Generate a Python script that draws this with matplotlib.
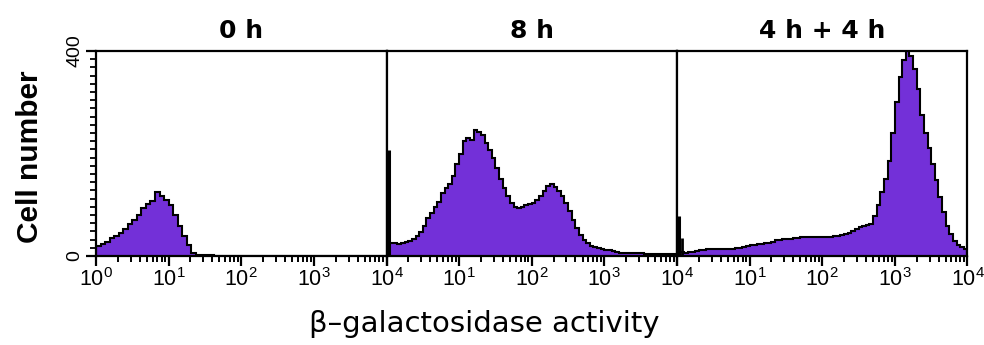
import numpy as np
import matplotlib
matplotlib.use("Agg")
import matplotlib.pyplot as plt
from matplotlib.ticker import FixedLocator, FixedFormatter, NullFormatter

plt.rcParams['font.family'] = ['Liberation Sans', 'DejaVu Sans']
plt.rcParams['mathtext.fontset'] = 'custom'
plt.rcParams['mathtext.rm'] = 'Liberation Sans'
plt.rcParams['mathtext.it'] = 'Liberation Sans'

# ---------------- data ----------------
titles = ["0 h", "8 h", "4 h + 4 h"]
ylabel = "Cell number"
xlabel = "\u03b2\u2013galactosidase activity"
y_tick_values = [0, 400]
y_tick_labels = ["0", "400"]
x_decades = [0, 1, 2, 3, 4]

# 0 h : 16 bins per decade, 4 decades
counts_0h = [20, 23, 27, 35, 39, 44, 53, 62, 70, 80, 93, 101, 108, 125, 117, 110,
             100, 80, 58, 40, 22, 6, 2, 2, 2, 2, 0, 0, 0, 0, 0, 0,
             0, 0, 0, 0, 0, 0, 0, 0, 0, 0, 0, 0, 0, 0, 0, 0,
             0, 0, 0, 0, 0, 0, 0, 0, 0, 0, 0, 0, 0, 0, 0, 0]

# 8 h : 20 bins per decade, 4 decades
counts_8h = [26, 26, 25, 24, 25, 27, 30, 34, 39, 46,
             58, 74, 84, 95, 106, 122, 133, 140, 157, 180,
             200, 224, 231, 226, 245, 242, 236, 220, 206, 192,
             172, 150, 132, 118, 104, 95, 93, 96, 99, 101,
             104, 110, 118, 127, 136, 141, 134, 126, 118, 104,
             88, 71, 55, 41, 31, 25, 20, 18, 16, 14,
             12, 11, 9, 7, 6, 5, 5, 5, 5, 5,
             5, 4, 4, 4, 4, 4, 4, 4, 3, 3]

# 4 h + 4 h : 20 bins per decade, 4 decades
counts_4h4h = [8, 8, 6, 7, 8, 10, 11, 12, 13, 13,
               13, 13, 13, 13, 14, 14, 15, 16, 18, 20,
               21, 22, 23, 24, 26, 26, 28, 31, 32, 33,
               34, 34, 35, 36, 37, 38, 38, 38, 38, 38,
               38, 38, 38, 39, 40, 41, 42, 45, 48, 52,
               56, 58, 60, 62, 78, 100, 125, 150, 185, 240,
               300, 350, 382, 400, 390, 365, 325, 275, 240, 210,
               180, 148, 115, 85, 58, 42, 30, 22, 17, 14]

# low-channel spikes (position, height)
spike_pos = [None, 1.08, 1.08]
spike_height = [0, 207, 78]
spike2_pos = [None, None, 1.16]
spike2_height = [0, 0, 36]

bins_per_decade = [16, 20, 20]
all_counts = [counts_0h, counts_8h, counts_4h4h]

purple = "#7330d8"

# ---------------- figure ----------------
fig = plt.figure(figsize=(9.84, 3.45), dpi=100)
left0 = 96 / 984
pw = 290.5 / 984
bottom = (345 - 256) / 345
height = (256 - 51) / 345

axes = []
for i in range(3):
    ax = fig.add_axes([left0 + i * pw, bottom, pw, height])
    axes.append(ax)
    counts = np.array(all_counts[i], dtype=float)
    n = len(counts)
    edges = 10 ** (np.arange(n + 1) / bins_per_decade[i])
    ax.stairs(counts, edges, fill=True, color=purple, zorder=2)
    ax.stairs(counts, edges, color="black", lw=1.5, zorder=3)
    if spike_pos[i] is not None:
        ax.vlines(spike_pos[i], 0, spike_height[i], color="black", lw=2.2, zorder=4)
    if spike2_pos[i] is not None:
        ax.vlines(spike2_pos[i], 0, spike2_height[i], color="black", lw=2.0, zorder=4)

    ax.set_xscale("log")
    ax.set_xlim(1, 1e4)
    ax.set_ylim(0, 400)

    # x ticks
    majors = [10 ** d for d in x_decades]
    labels = [r"$\mathregular{10^{%d}}$" % d for d in x_decades]
    if i > 0:
        labels[0] = ""
    ax.xaxis.set_major_locator(FixedLocator(majors))
    ax.xaxis.set_major_formatter(FixedFormatter(labels))
    minors = [m * 10 ** d for d in x_decades[:-1] for m in range(2, 10)]
    ax.xaxis.set_minor_locator(FixedLocator(minors))
    ax.xaxis.set_minor_formatter(NullFormatter())
    ax.tick_params(axis="x", which="major", direction="out", length=7, width=1.6,
                   labelsize=15.5, pad=2)
    ax.tick_params(axis="x", which="minor", direction="out", length=4, width=1.4)

    # y ticks
    if i == 0:
        ax.set_yticks(y_tick_values)
        ax.set_yticklabels(y_tick_labels, rotation=90, va="center", fontsize=14)
        ax.yaxis.set_minor_locator(FixedLocator(list(range(16, 400, 16))))
        ax.tick_params(axis="y", which="major", direction="out", length=7, width=1.6,
                       pad=2)
        ax.tick_params(axis="y", which="minor", direction="out", length=4, width=1.3)
    else:
        ax.set_yticks([])
        ax.yaxis.set_minor_locator(FixedLocator([]))

    for sp in ax.spines.values():
        sp.set_linewidth(1.6)
        sp.set_zorder(5)

    ax.set_title(titles[i], fontsize=18, fontweight="bold", pad=9,
                 family=["DejaVu Sans"])

fig.text(30 / 984, 1 - 157 / 345, ylabel, rotation=90, fontsize=21.5,
         fontweight="bold", ha="center", va="center")
fig.text(484 / 984, 1 - 324 / 345, xlabel, fontsize=21, ha="center", va="center",
         family=["DejaVu Sans"])

fig.savefig("out.png", dpi=100)
